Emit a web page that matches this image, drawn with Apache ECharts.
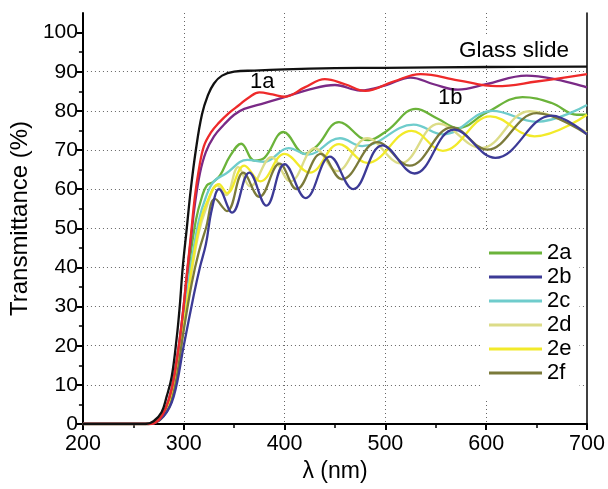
<meta charset="utf-8" />
<style>
html, body { margin: 0; padding: 0; background: #fff; }
#chart { width: 608px; height: 489px; }
</style>
<div id="chart"></div>
<script src="https://cdn.jsdelivr.net/npm/echarts@6.0.0/dist/echarts.min.js"></script>
<script>
// wavelength (nm), transmittance (%)
const glassSlide = [[200,0],[262,0],[270,0.7],[278,3],[283,7],[288,12],[293,22],[296,30],[299,40],[303,50],[307,60],[312,70],[318,79],[324,84],[330,87],[338,89],[350,90],[370,90.3],[400,90.6],[450,90.9],[500,91],[600,91.2],[700,91.3]];
const s1a = [[200,0],[266,0],[275,1],[282,4],[288,9],[294,18],[299,28],[303,38],[307,48],[311,58],[315,65],[320,71],[327,74.5],[335,77],[345,79.5],[355,81.5],[365,83.5],[375,84.7],[388,84.2],[400,83.6],[420,86],[440,88.1],[460,86.8],[480,85.1],[508,87.5],[535,89.4],[572,87.8],[610,86.3],[650,87.5],[700,89.4]];
const s1b = [[200,0],[266,0],[275,1],[282,4],[288,9],[294,18],[299,28],[303,38],[307,47],[311,56],[316,64],[322,69.5],[330,73.5],[340,76.5],[350,79],[360,80.5],[380,82],[400,83.5],[425,85.5],[450,86.6],[475,85.2],[500,86.5],[525,88.5],[548,86.8],[572,85.4],[600,86.8],[640,89],[670,88],[700,86]];
const s2a = [[200,0],[265,0],[280,3],[290,10],[298,25],[305,40],[312,52],[318,58],[323,61],[329,61.8],[336,63.5],[346,68.5],[357,71.6],[370,67.3],[380,68],[399,74.6],[420,69],[432,71],[454,77.1],[483,72.5],[502,75],[530,80.5],[552,78],[572,75.6],[600,79.5],[636,83.5],[665,82],[690,79],[700,79]];
const s2b = [[200,0],[265,0],[280,2],[290,7],[300,20],[310,33],[316,40],[322,46],[328,55],[335,60],[348,54],[365,64.2],[382,55.8],[400,66.4],[421,57.7],[445,68.3],[468,60],[497,71.2],[529,64],[568,75.2],[609,68],[665,78.8],[700,74]];
const s2c = [[200,0],[265,0],[280,3],[290,10],[300,28],[308,42],[315,52],[322,58],[330,62],[342,64],[363,67.5],[380,67],[404,70.5],[423,68.8],[455,73],[477,71],[528,76.5],[557,74],[606,80],[650,77.2],[700,81.5]];
const s2d = [[200,0],[265,0],[280,2.5],[290,9],[300,25],[308,39],[315,49],[322,55],[333,61],[342,58.5],[354,65.6],[366,60.7],[387,68.2],[406,62],[430,70.5],[452,64.6],[482,73],[515,66.6],[553,76.7],[595,70.5],[643,79.9],[700,74.5]];
const s2e = [[200,0],[265,0],[280,3],[290,9],[300,25],[308,40],[315,50],[322,56],[335,61.3],[343,59],[360,66],[376,62],[400,69],[425,64.2],[454,71.5],[482,66.7],[526,74.9],[557,69.8],[604,78.6],[648,73.5],[700,79]];
const s2f = [[200,0],[265,0],[280,2],[290,8],[300,24],[308,36],[315,44],[322,50],[331,57.5],[343,54.4],[359,64.2],[375,58],[395,66.5],[412,60],[436,69],[457,62.5],[492,72],[524,66],[566,75.8],[601,70.1],[650,79.4],[700,74]];

const legendNames = ['2a', '2b', '2c', '2d', '2e', '2f'];
const yMajor = [0, 10, 20, 30, 40, 50, 60, 70, 80, 90, 100];
const yMinor = [5, 15, 25, 35, 45, 55, 65, 75, 85, 95];

const FONT = 'Liberation Sans, Arial, sans-serif';

const mk = (name, data, color) => ({
  name, data, type: 'line', xAxisIndex: 0, yAxisIndex: 0,
  smooth: 0.4, showSymbol: false, symbol: 'none',
  lineStyle: { color, width: 2.3 }, itemStyle: { color },
  emphasis: { disabled: true }
});

const chart = echarts.init(document.getElementById('chart'));
chart.setOption({
  animation: false,
  grid: { left: 80, right: 21, top: 13, bottom: 65 },
  xAxis: {
    type: 'value', min: 200, max: 700, interval: 100,
    name: 'λ (nm)', nameLocation: 'middle', nameGap: 31,
    nameTextStyle: { fontFamily: FONT, fontSize: 23, color: '#000' },
    axisLine: { lineStyle: { color: '#000', width: 2 } },
    axisTick: { show: true, inside: false, length: 6, lineStyle: { color: '#000', width: 2 } },
    minorTick: { show: true, splitNumber: 2, length: 4, lineStyle: { color: '#000', width: 1.5 } },
    axisLabel: { fontFamily: FONT, fontSize: 21.5, color: '#000', margin: 9 },
    splitLine: { show: true, showMinLine: false, showMaxLine: false, lineStyle: { color: '#666', type: [1, 3], width: 1 } }
  },
  yAxis: [
    {
      type: 'value', min: 0, max: 105, interval: 10, position: 'left',
      name: 'Transmittance (%)', nameLocation: 'middle', nameGap: 45,
      nameTextStyle: { fontFamily: FONT, fontSize: 24, color: '#000' },
      axisLine: { show: true, lineStyle: { color: '#000', width: 2 } },
      axisTick: { show: true, length: 6, customValues: yMajor, lineStyle: { color: '#000', width: 2 } },
      axisLabel: { fontFamily: FONT, fontSize: 21, color: '#000', margin: 5, customValues: yMajor },
      splitLine: { show: true, showMinLine: false, showMaxLine: false, lineStyle: { color: '#666', type: [1, 3], width: 1 } }
    },
    {
      type: 'value', min: 0, max: 105, position: 'left',
      axisLine: { show: false },
      axisTick: { show: true, length: 4, customValues: yMinor, lineStyle: { color: '#000', width: 1.5 } },
      axisLabel: { show: false },
      splitLine: { show: false }
    },
    {
      type: 'value', min: 0, max: 105, position: 'right',
      axisLine: { show: true, onZero: false, lineStyle: { color: '#000', width: 1.5 } },
      axisTick: { show: false }, axisLabel: { show: false }, splitLine: { show: false }
    }
  ],
  legend: {
    data: legendNames, orient: 'vertical', left: 480, top: 232,
    padding: [10, 8, 16, 9], itemGap: 2, itemWidth: 53, itemHeight: 3,
    icon: 'rect', itemStyle: { borderWidth: 0 },
    backgroundColor: '#fff', selectedMode: false,
    textStyle: { fontFamily: FONT, fontSize: 22, color: '#000', lineHeight: 20, padding: [0, 0, 0, 0] },
    itemTextGap: 5
  },
  graphic: [
    { type: 'text', z: 100, left: 457, top: 37, style: { text: 'Glass slide', font: '22.5px ' + FONT, fill: '#000', backgroundColor: '#fff', padding: [2, 2, 2, 2] } },
    { type: 'text', z: 100, left: 250, top: 71, style: { text: '1a', font: '22px ' + FONT, fill: '#000' } },
    { type: 'text', z: 100, left: 438, top: 87, style: { text: '1b', font: '22px ' + FONT, fill: '#000' } }
  ],
  series: [
    mk('2a', s2a, '#6bb33a'),
    mk('2c', s2c, '#6fcccc'),
    mk('2d', s2d, '#dcdc88'),
    mk('2e', s2e, '#f2ea2a'),
    mk('2f', s2f, '#7b7a3a'),
    mk('2b', s2b, '#3c3a96'),
    mk('1b', s1b, '#7a2a86'),
    mk('1a', s1a, '#ee2a2a'),
    mk('Glass slide', glassSlide, '#111111')
  ]
});
</script>
